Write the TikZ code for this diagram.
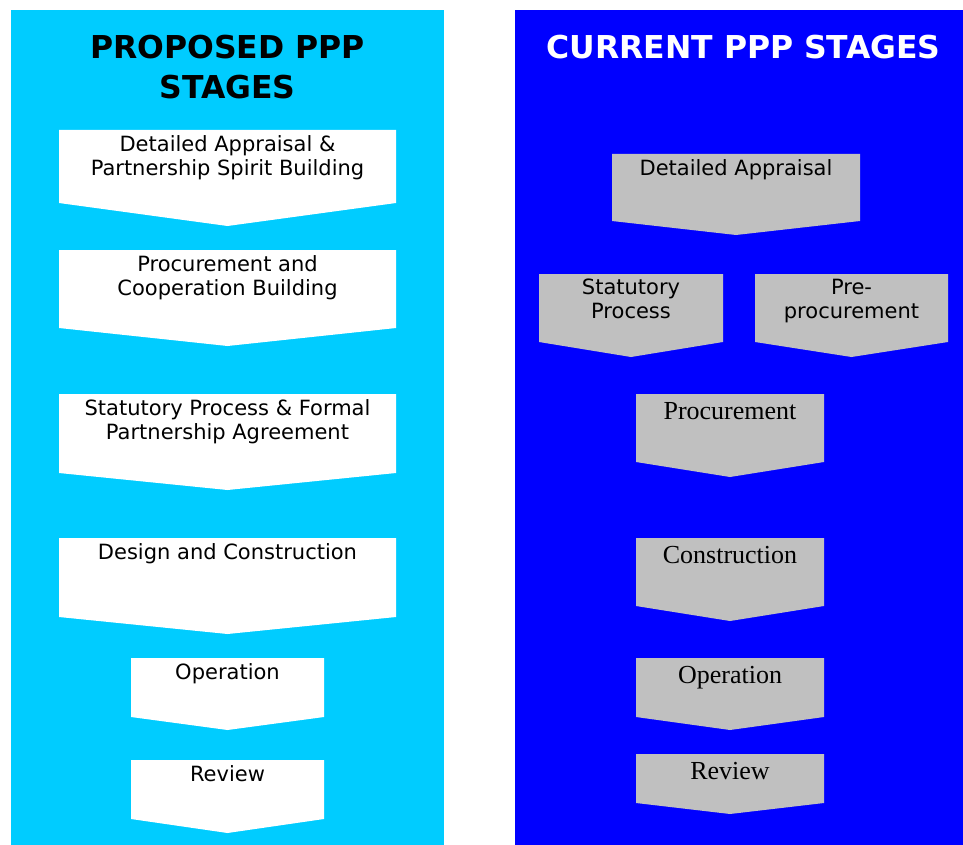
\documentclass[tikz,border=0pt]{standalone}
\usepackage{fontspec}
\setmainfont{DejaVu Sans}
\newfontfamily\serifstage{Liberation Serif}
\usepackage{tikz}
\usetikzlibrary{positioning}
\definecolor{proposedcolor}{RGB}{0, 204, 255}
\definecolor{currentcolor}{RGB}{0, 0, 255}
\definecolor{stagecolor}{RGB}{192, 192, 192}
\tikzstyle{title} = [font=\bfseries\fontsize{31.5}{40}\selectfont, align=center, inner sep=0pt, anchor=north]
\tikzstyle{stagetext} = [font=\fontsize{21}{24}\selectfont, align=center, inner sep=0pt, anchor=north]
\tikzstyle{seriftext} = [font=\serifstage\fontsize{26}{30}\selectfont, align=center, inner sep=0pt, anchor=north]
% chevron: colour, left x, right x, top y, side bottom y, tip y
\newcommand{\chevron}[6]{\fill[#1] (#2,#4) -- (#3,#4) -- (#3,#5) -- ({(#2+#3)/2},#6) -- (#2,#5) -- cycle;}

\begin{document}
\begin{tikzpicture}[x=1pt, y=-1pt]
\useasboundingbox (0,0) rectangle (963,845);

% Panneaux
\fill[proposedcolor] (11,10) rectangle (444,845);
\fill[currentcolor] (515,10) rectangle (963,845);

% Colonne gauche - formes
\chevron{white}{59}{396}{130}{203}{226}
\chevron{white}{59}{396}{250}{328}{346}
\chevron{white}{59}{396}{394}{473}{490}
\chevron{white}{59}{396}{538}{617}{634}
\chevron{white}{131}{324}{658}{717}{730}
\chevron{white}{131}{324}{760}{819}{833}

% Colonne droite - formes
\chevron{stagecolor}{612}{860}{154}{221}{235}
\chevron{stagecolor}{539}{723}{274}{342}{357}
\chevron{stagecolor}{755}{948}{274}{342}{357}
\chevron{stagecolor}{636}{824}{394}{462}{477}
\chevron{stagecolor}{636}{824}{538}{606}{621}
\chevron{stagecolor}{636}{824}{658}{717}{730}
\chevron{stagecolor}{636}{824}{754}{803}{814}

% Titres
\node (proptitle) [title] at (227.5,35) {PROPOSED PPP\\STAGES};
\node (curtitle) [title, text=white] at (743.5,35) {CURRENT PPP STAGES};

% Etapes proposees
\node (pappraisal) [stagetext] at (227.5,135) {Detailed Appraisal \&\\Partnership Spirit Building};
\node (pprocure) [stagetext] at (227.5,255) {Procurement and\\Cooperation Building};
\node (pstatutory) [stagetext] at (227.5,399) {Statutory Process \& Formal\\Partnership Agreement};
\node (pdesign) [stagetext] at (227.5,543) {Design and Construction};
\node (poperation) [stagetext] at (227.5,663) {Operation};
\node (preview) [stagetext] at (227.5,765) {Review};

% Etapes actuelles
\node (cappraisal) [stagetext] at (736,159) {Detailed Appraisal};
\node (cstatutory) [stagetext] at (631,279) {Statutory\\Process};
\node (cpreproc) [stagetext] at (851.5,279) {Pre-\\procurement};
\node (cprocure) [seriftext] at (730,402) {Procurement};
\node (cconstruct) [seriftext] at (730,546) {Construction};
\node (coperation) [seriftext] at (730,666) {Operation};
\node (creview) [seriftext] at (730,762) {Review};

\end{tikzpicture}
\end{document}
